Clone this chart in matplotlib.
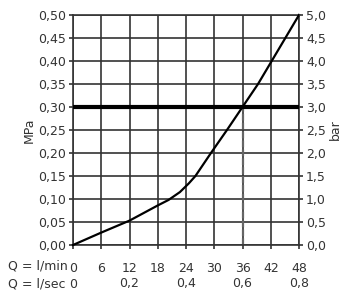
import matplotlib
matplotlib.use("Agg")
import matplotlib.pyplot as plt
import matplotlib.transforms as mtransforms

# Data
flow_lmin = [0, 6, 12, 18, 20.3, 22.7, 24.6, 26.0, 29.3, 32.7, 36.0, 39.3, 42.2, 45.1, 48.0]
pressure_mpa = [0.0, 0.027, 0.053, 0.086, 0.098, 0.115, 0.134, 0.15, 0.20, 0.25, 0.30, 0.35, 0.40, 0.45, 0.50]
lmin_ticks = [0, 6, 12, 18, 24, 30, 36, 42, 48]
lsec_ticks = [0, 12, 24, 36, 48]
lsec_labels = ["0", "0,2", "0,4", "0,6", "0,8"]
mpa_ticks = [0.0, 0.05, 0.10, 0.15, 0.20, 0.25, 0.30, 0.35, 0.40, 0.45, 0.50]
mpa_labels = ["0,00", "0,05", "0,10", "0,15", "0,20", "0,25", "0,30", "0,35", "0,40", "0,45", "0,50"]
bar_ticks = [0.0, 0.5, 1.0, 1.5, 2.0, 2.5, 3.0, 3.5, 4.0, 4.5, 5.0]
bar_labels = ["0,0", "0,5", "1,0", "1,5", "2,0", "2,5", "3,0", "3,5", "4,0", "4,5", "5,0"]
operating_flow = 36
operating_pressure = 0.30

plt.rcParams['font.family'] = ['DejaVu Sans']
fs = 9
gc = '#333333'

fig = plt.figure(figsize=(3.6, 3.02), dpi=100)
ax = fig.add_axes([73/360, 57/302, 226/360, 230/302])
ax.set_xlim(0, 48)
ax.set_ylim(0, 0.5)

ax.set_xticks(lmin_ticks)
ax.set_xticklabels([str(t) for t in lmin_ticks], fontsize=fs, color=gc)
ax.set_yticks(mpa_ticks)
ax.set_yticklabels(mpa_labels, fontsize=fs, color=gc)
ax.tick_params(axis='both', direction='out', length=3, width=1.2, color=gc, pad=2)
ax.tick_params(axis='x', pad=9)
ax.grid(True, color=gc, linewidth=1.2)
for s in ax.spines.values():
    s.set_color(gc)
    s.set_linewidth(1.2)

ax.axhline(operating_pressure, color='black', linewidth=3, zorder=3)
ax.plot([operating_flow, operating_flow], [0, operating_pressure], color='#666666',
        linestyle=(0, (3, 1)), linewidth=1.6, zorder=2.5)
ax.plot(flow_lmin, pressure_mpa, color='black', linewidth=1.6, zorder=4, clip_on=False,
        solid_joinstyle='round')

ax2 = ax.twinx()
ax2.set_ylim(0, 5)
ax2.set_yticks(bar_ticks)
ax2.set_yticklabels(bar_labels, fontsize=fs, color=gc)
ax2.tick_params(axis='y', direction='out', length=3, width=1.2, color=gc, pad=2)
for s in ax2.spines.values():
    s.set_visible(False)

ax.set_ylabel('MPa', fontsize=fs, color=gc, labelpad=2)
ax2.set_ylabel('bar', fontsize=fs, color=gc, labelpad=2)

# second x label row (l/sec)
trans = mtransforms.blended_transform_factory(ax.transData, fig.transFigure)
for t, lab in zip(lsec_ticks, lsec_labels):
    ax.text(t, 18/302, lab, transform=trans, ha='center', va='center', fontsize=fs, color=gc)
fig.text(8/360, 36/302, 'Q = l/min', ha='left', va='center', fontsize=fs, color=gc)
fig.text(8/360, 18/302, 'Q = l/sec', ha='left', va='center', fontsize=fs, color=gc)

fig.savefig('out.png', dpi=100)
